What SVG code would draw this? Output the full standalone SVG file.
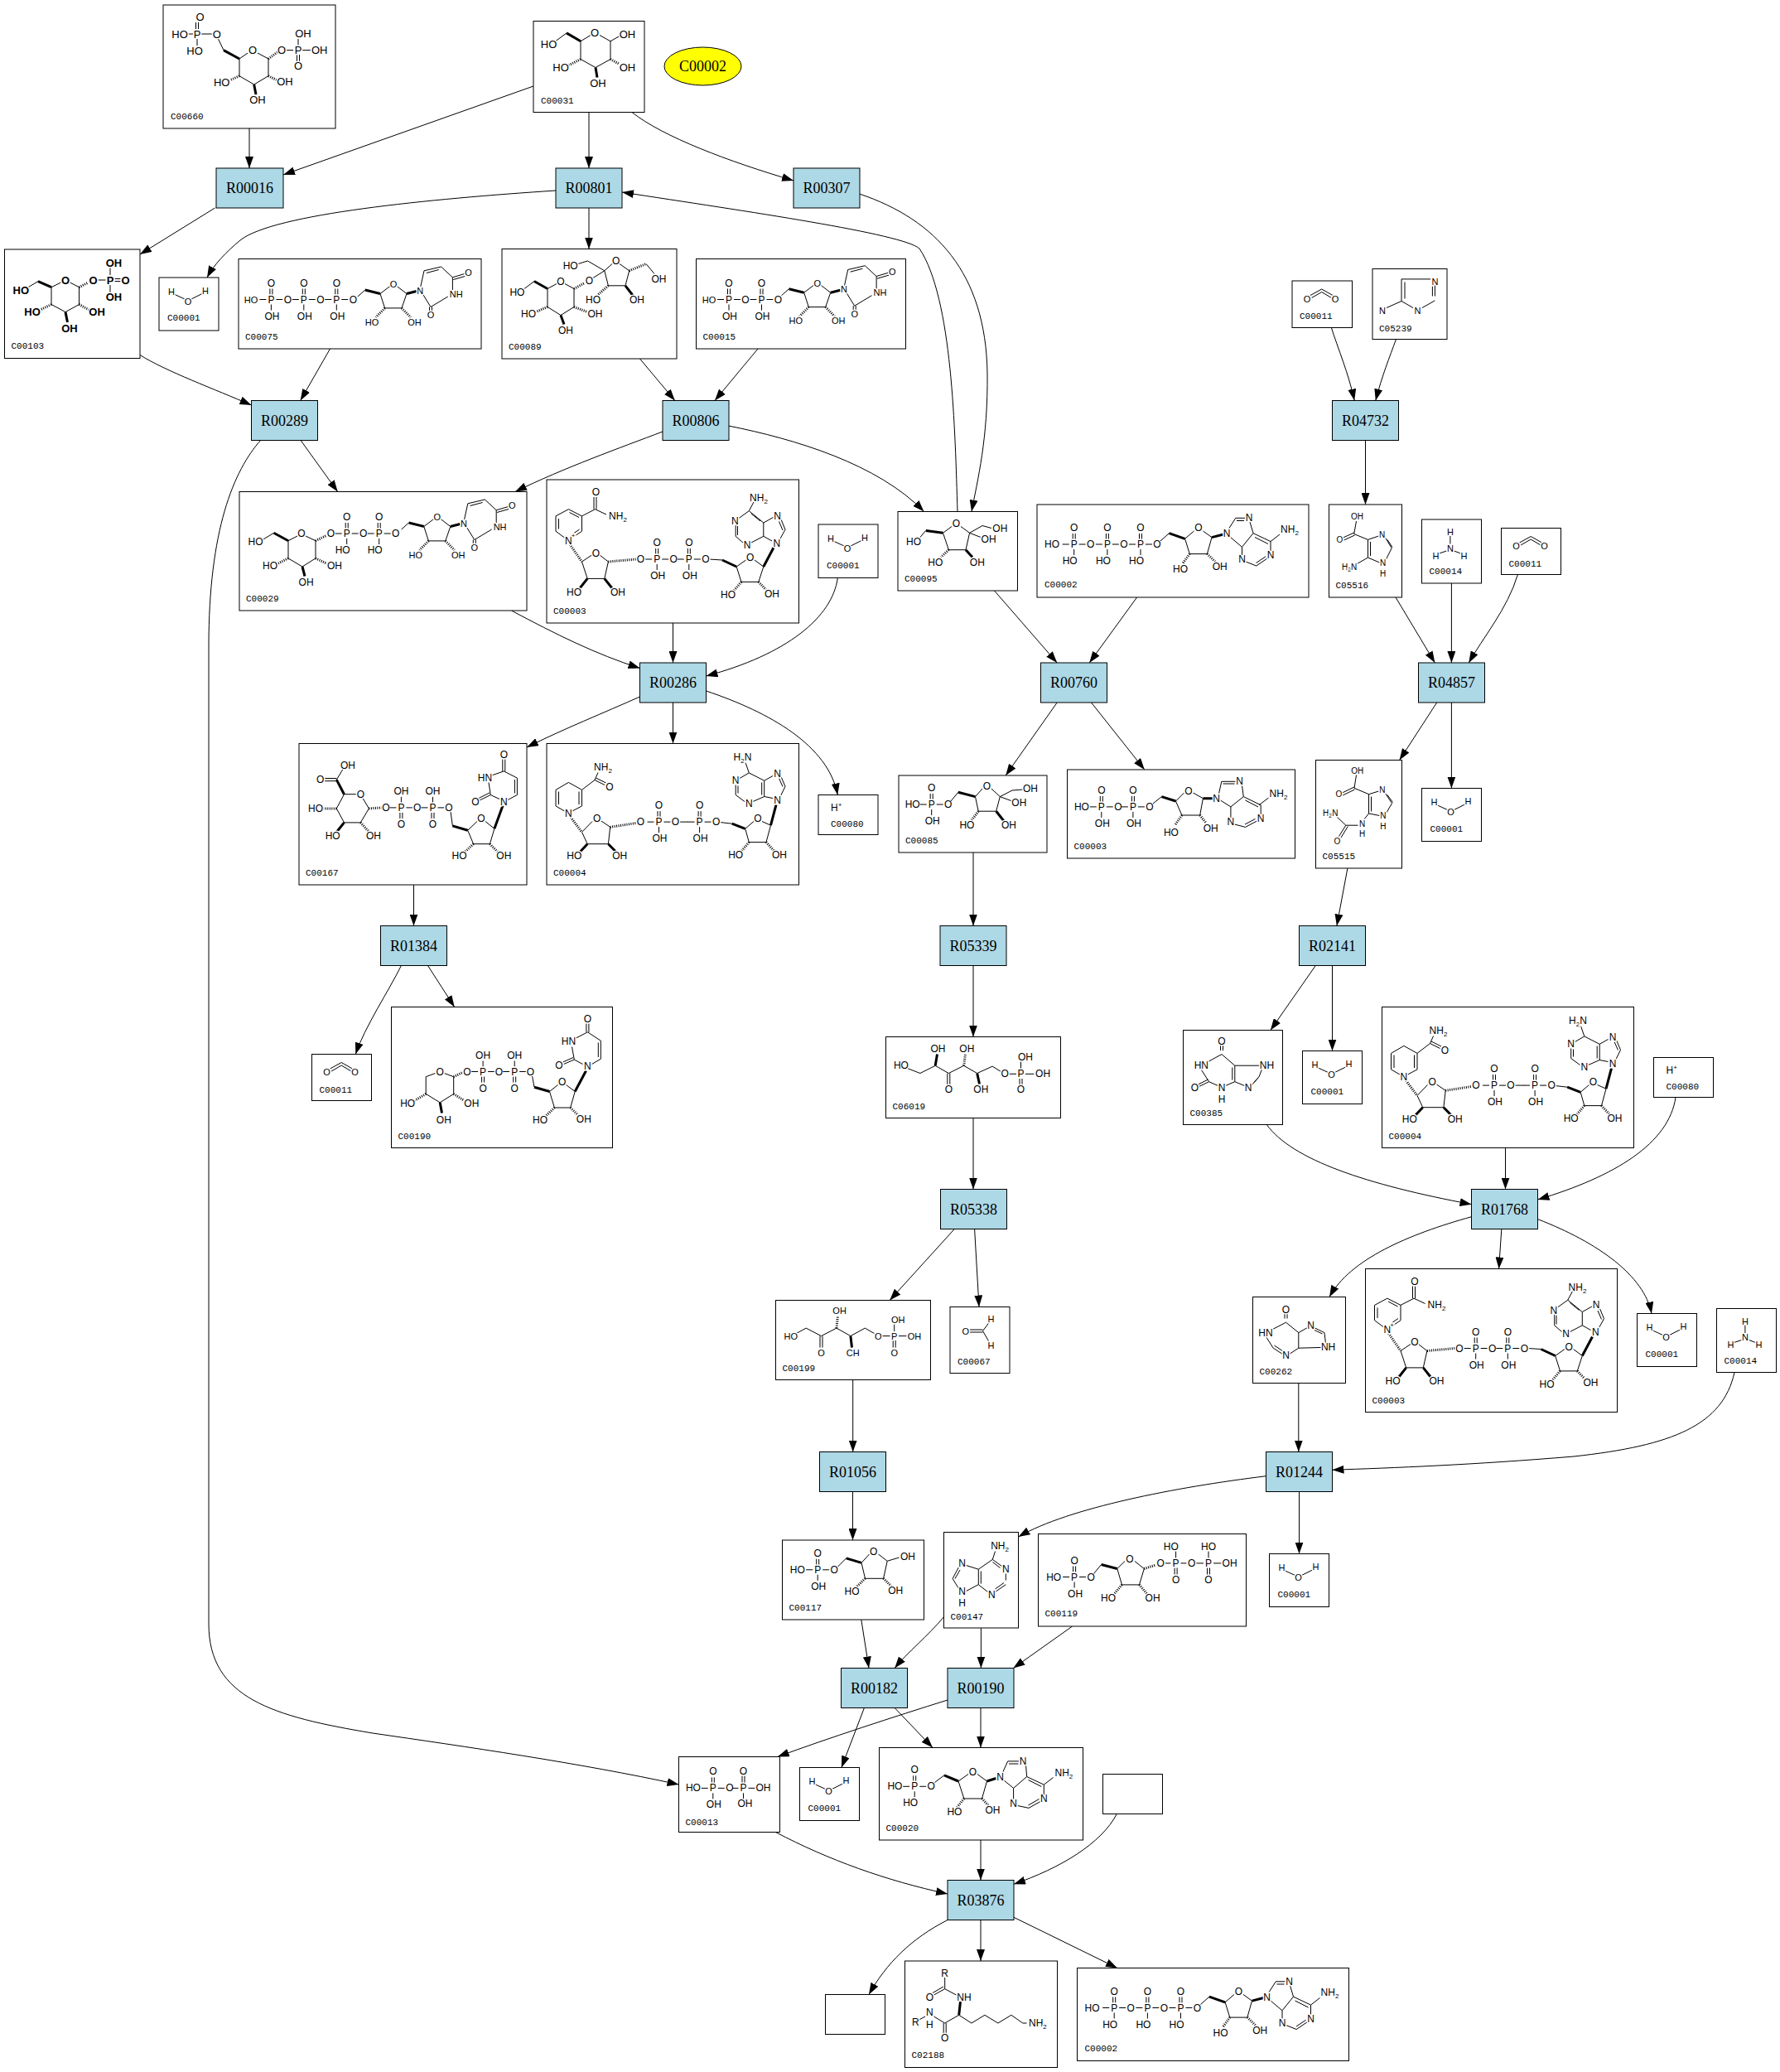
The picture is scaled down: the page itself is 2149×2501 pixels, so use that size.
<svg xmlns="http://www.w3.org/2000/svg" width="2149" height="2501" viewBox="0 0 2149 2501">
<style>
text{font-family:"Liberation Sans",Arial,sans-serif}
.a,.a1,.a3,.a0{text-anchor:middle;fill:#000;stroke:#fff;stroke-width:3px;paint-order:stroke;stroke-linejoin:round}
.a{font-size:12px}.a1{font-size:11px}.a3{font-size:13px}.a0{font-size:10px}
.bd{font-weight:bold}
.id{font-family:"Liberation Mono","DejaVu Sans Mono",monospace;font-size:11px;fill:#000}
.b{fill:none;stroke:#000;stroke-width:1}
.hb{fill:none;stroke:#000;stroke-width:3;stroke-dasharray:1 1.5}
.w{fill:none;stroke:#000;stroke-width:3}
.n>rect{fill:#fff;stroke:#000;stroke-width:1}
.r>rect{fill:#add8e6;stroke:#000;stroke-width:1}
.r>text,.el>text{font-family:"Liberation Serif","Times New Roman",serif;font-size:18px;text-anchor:middle;fill:#000}
.e path{fill:none;stroke:#000;stroke-width:1;marker-end:url(#ah)}
</style>
<defs>
<marker id="ah" viewBox="0 0 14 10" refX="14" refY="5" markerWidth="14" markerHeight="10" markerUnits="userSpaceOnUse" orient="auto"><path d="M0,0L14,5L0,10z" fill="#000"/></marker>
<g id="pa"><path class="b" d="M-14,0H-6M6,0H14M-1.5,-6V-13M1.5,-6V-13M0,6V13"/><text class="a" x="0" y="4">P</text><text class="a" x="0" y="-16">O</text><text class="a" x="1" y="24">OH</text><text class="a" x="20" y="4">O</text></g>
<g id="pb"><path class="b" d="M-14,0H-6M6,0H14M-1.5,-6V-13M1.5,-6V-13M0,6V13"/><text class="a" x="0" y="4">P</text><text class="a" x="0" y="-16">O</text><text class="a" x="-5" y="24">HO</text><text class="a" x="20" y="4">O</text></g>
<g id="pc"><path class="b" d="M-14,0H-6M6,0H14M0,-6V-13M-1.5,6V13M1.5,6V13"/><text class="a" x="0" y="4">P</text><text class="a" x="0" y="-16">OH</text><text class="a" x="0" y="24">O</text><text class="a" x="19.3" y="4">O</text></g>
<g id="urib">
<path class="b" d="M-9,8L0,0M18.2,4.5L30,-4.5M38.5,-4.5L50.2,4.5L44.2,21.9L23.8,21.9L18.2,4.5M69,4L79.2,20.5L100,8M105.6,0L105.6,-15.2L91.8,-28L71.2,-23.2L67,-4M89,-24.5L74,-20.5M77.7,20.5V25.5M80.7,20.5V25.5M105.6,-15.2L120,-19.5M106.5,-12.5L120.5,-16.5"/>
<path class="w" d="M0,0L18.2,4.5M50.2,4.5L62,1.5"/>
<path class="hb" d="M23.8,21.9L13,33M44.2,21.9L55,33"/>
<text class="a1" x="34.2" y="-3">O</text><text class="a1" x="8.2" y="42.5">HO</text><text class="a1" x="59.7" y="42.5">OH</text><text class="a1" x="66.5" y="4.7">N</text><text class="a1" x="79.2" y="34">O</text><text class="a1" x="110" y="8.5">NH</text><text class="a1" x="124.8" y="-17.2">O</text>
</g>
<g id="h2o"><path class="b" d="M18,20L31,26M39,26L53,19"/><text class="a1" x="15" y="20.5">H</text><text class="a1" x="35" y="32.5">O</text><text class="a1" x="56" y="19.7">H</text></g>
<g id="co2"><path class="b" d="M22,17.5L35.7,10L49,17.5M23.5,20.5L35.7,13.5L47.5,20.5"/><text class="a1" x="18" y="25.7">O</text><text class="a1" x="52" y="25.7">O</text></g>
<g id="nh3"><path class="b" d="M34.4,20V29.5M30,38L21,41M39,38L47,41"/><text class="a1" x="34.4" y="19">H</text><text class="a1" x="34.4" y="38.6">N</text><text class="a1" x="17" y="47.6">H</text><text class="a1" x="51" y="47.6">H</text></g>
<g id="hp"><text class="a" style="text-anchor:start" x="15" y="19">H<tspan font-size="8" dy="-5">+</tspan></text></g>
<g id="nad">
<path class="b" d="M11,43.9L26.4,35.7L42.5,43.9L42.5,62.2L31,70M21.5,70L11,62.2L11,43.9M14.5,47V59.5M27.5,39.5L39,45.5M39.5,60L31.5,65.5M42.5,43.9L58.5,35.7L72,42M57,35.7V21M60,35.7V21M54.5,91L42.5,99L49.2,119.4L69.8,119.4L74.4,99L64,91M196,96L212,97M240.5,97L229.2,105L235,123.4L255.8,123.4L261.8,105L251,97M272,74L261.8,68.3M281.5,72L288,60.2L283,48M285,61L280.5,50.5M273.5,45.5L261.8,52V68.3L247,76M237,76L228.2,68.3V55M232,46.5L244.3,37.7L261.8,52M244.3,37.7L250,27M230.5,67V56M247,41L258,50"/>
<path class="w" d="M49.2,119.4L40,131M69.8,119.4L79,131M212,97L229.2,105M261.8,105L274,82"/>
<path class="hb" d="M28,78L42.5,99M74.4,99L108,96M235,123.4L226,134M255.8,123.4L265,133"/>
<text class="a" x="26.4" y="77.7">N</text><text class="a" style="font-size:8px" x="32" y="70">+</text>
<text class="a" x="59.3" y="19.3">O</text>
<text class="a" x="86" y="47.9">NH<tspan font-size="8" dy="3">2</tspan></text>
<text class="a" x="59.3" y="92.8">O</text>
<text class="a" x="33" y="139.7">HO</text><text class="a" x="86" y="139.7">OH</text>
<text class="a" x="113.5" y="100">O</text>
<use href="#pa" x="133.2" y="96"/><use href="#pa" x="171.8" y="96"/>
<text class="a" x="245.7" y="98">O</text>
<text class="a" x="219" y="143">HO</text><text class="a" x="271.9" y="141.7">OH</text>
<text class="a" x="277.8" y="80.5">N</text><text class="a" x="278.7" y="47.9">N</text><text class="a" x="242" y="82.6">N</text><text class="a" x="227.3" y="54">N</text>
<text class="a" x="256" y="26.2">NH<tspan font-size="8" dy="3">2</tspan></text>
</g>
<g id="nadh">
<path class="b" d="M11,55.9L26.4,46.9L42.5,55.9L42.5,75.4L31,81.5M21.5,81.5L11,75.4L11,55.9M14.5,58V73.5M39,58V73.5M42.5,55.9L58,44L62,35M58,44L70,50M59.5,41.5L71.5,47.5M55,94L42.5,106.9L49.2,121.2L74.4,121.2L76.7,100.8L66,93.5M160,94.6H171M209,95L223.7,96.7M250,94L239.7,102.8L244.3,119.1L265,119.1L270.5,98.7L260,94M273,66L262.7,64M282,64L288,51.8L283,40M285,52L280.5,42M273,39L262.7,44.8V64L249,70M259.7,47V62M239,70L228.2,62V50M231,60V51M233,42L244.3,35.4L262.7,44.8M244.3,35.4L240,23"/>
<path class="w" d="M49.2,121.2L40,131M74.4,121.2L84,131M223.7,96.7L239.7,102.8M270.5,98.7L277,74"/>
<path class="hb" d="M29,89L42.5,106.9M76.7,100.8L108,96M244.3,119.1L235,130M265,119.1L275,130"/>
<text class="a" x="26.4" y="88.4">N</text>
<text class="a" x="68" y="32.4">NH<tspan font-size="8" dy="3">2</tspan></text>
<text class="a" x="75.8" y="56.4">O</text><text class="a" x="60.7" y="94.4">O</text>
<text class="a" x="33.3" y="139.5">HO</text><text class="a" x="88.2" y="139.5">OH</text>
<text class="a" x="113.5" y="98.6">O</text>
<use href="#pa" x="135.5" y="94.6"/><use href="#pa" x="184.6" y="94.6"/>
<text class="a" x="254.9" y="94.4">O</text>
<text class="a" x="228.2" y="138.6">HO</text><text class="a" x="281" y="138.6">OH</text>
<text class="a" x="278.7" y="72.1">N</text><text class="a" x="278.7" y="40.7">N</text><text class="a" x="244.3" y="76.2">N</text><text class="a" x="228.2" y="48.8">N</text>
<text class="a" x="236.5" y="20.3">H<tspan font-size="8" dy="3">2</tspan><tspan dy="-3">N</tspan></text>
</g>
<g id="atp">
<text class="a" x="18" y="52">HO</text>
<use href="#pb" x="44.7" y="48"/><use href="#pb" x="84.9" y="48"/><use href="#pb" x="125" y="48"/>
<path class="b" d="M149,44L159.5,34.6M189.5,32L178.6,41.3L184.3,59.6L205.4,59.6L211,39.6L200.5,32M231,30L239.8,16.3H251M241,19.5H250M257,21L261,34.6L247.5,51.3L233,39M247.5,51.3V61M252,69L264.7,74L278,65M264.5,70.5L276,62.8M282,56V44.6L261,34.6M279,47.5L263,39.5M282,44.6L293,36"/>
<path class="w" d="M159.5,34.6L178.6,41.3M211,39.6L225,36"/>
<path class="hb" d="M184.3,59.6L176,71M205.4,59.6L215,69"/>
<text class="a" x="195" y="32">O</text><text class="a" x="173" y="82">HO</text><text class="a" x="220.7" y="79.3">OH</text>
<text class="a" x="229" y="39.3">N</text><text class="a" x="256" y="20.3">N</text><text class="a" x="247.5" y="70.3">N</text><text class="a" x="282" y="65.3">N</text>
<text class="a" x="305" y="33.6">NH<tspan font-size="8" dy="3">2</tspan></text>
</g>
</defs>
<rect width="2149" height="2501" fill="#fff"/>

<g id="edges" class="e">
<path d="M301,155L301,203"/>
<path d="M644,104L342,211"/>
<path d="M711,135.5L711,203"/>
<path d="M763,135.5C800,165 880,195 958,218"/>
<path d="M259.5,251L169,307"/>
<path d="M671,230C520,240 330,258 290,290C272,305 258,320 250,335"/>
<path d="M711,251L711,300.5"/>
<path d="M1037.5,234C1130,265 1190,330 1192,450C1193,530 1180,580 1173,617.5"/>
<path d="M1156,617.5C1153,520 1150,360 1110,300C1090,282 900,255 751,232"/>
<path d="M169,428.5C200,448 260,470 303.5,489"/>
<path d="M398.5,421L362.7,483.5"/>
<path d="M772.5,433L814.8,483.5"/>
<path d="M915,421L863,483.5"/>
<path d="M362.7,531L407.7,593.5"/>
<path d="M315,531C282,568 252,640 252,780L252,1960C252,2050 330,2072 450,2092C560,2108 700,2128 819.5,2154"/>
<path d="M800,521C750,540 680,565 622,593.5"/>
<path d="M879.5,514C960,530 1060,560 1115.5,617.5"/>
<path d="M617.5,737C670,765 720,790 772.5,806.5"/>
<path d="M812.5,752L812.5,800"/>
<path d="M1011.3,697.5C1005,745 950,790 852.5,816"/>
<path d="M772.5,841C730,860 680,880 636,902"/>
<path d="M812.5,848L812.5,897.5"/>
<path d="M852.5,834C930,860 1000,900 1011.3,959.5"/>
<path d="M1372.6,721L1315.2,800"/>
<path d="M1200.5,713L1276.2,800"/>
<path d="M1276.2,848L1214.2,936"/>
<path d="M1317.5,848L1381.8,929"/>
<path d="M1175,1029L1175,1117.5"/>
<path d="M1175,1165.5L1175,1251.5"/>
<path d="M1175,1349.5L1175,1435.5"/>
<path d="M1152.3,1483.5L1074.2,1569.5"/>
<path d="M1176.6,1483.5L1182,1577.5"/>
<path d="M1029.7,1665.5L1029.7,1752.5"/>
<path d="M1029.5,1800.5L1029.5,1859"/>
<path d="M1607.4,395.5C1615,420 1628,450 1635.2,483.5"/>
<path d="M1685.5,409.5C1678,430 1668,455 1660.8,483.5"/>
<path d="M1648.5,531.5L1648.5,609"/>
<path d="M1685,721L1732.4,800"/>
<path d="M1752.4,704L1752.4,800"/>
<path d="M1832.4,693.5C1820,735 1790,770 1773.3,800"/>
<path d="M1734.7,848L1689.6,917.5"/>
<path d="M1752.4,848L1752.4,951.5"/>
<path d="M1626.9,1048L1613.9,1117.5"/>
<path d="M1588.3,1165.5L1533.9,1243.5"/>
<path d="M1608.5,1165.5L1608.5,1268.5"/>
<path d="M1529.3,1357.5C1560,1400 1650,1430 1776.5,1453.7"/>
<path d="M1817.5,1385.5L1817.5,1435.5"/>
<path d="M2023,1324.5C2015,1380 1950,1420 1856.5,1448"/>
<path d="M1776.5,1468.7C1700,1490 1630,1520 1605,1565.5"/>
<path d="M1812.8,1483.5L1809.6,1531.5"/>
<path d="M1856.5,1471.6C1930,1500 1985,1540 1994,1585.5"/>
<path d="M1567.8,1669.5L1567.8,1752.5"/>
<path d="M2094,1656.5C2080,1720 2020,1745 1900,1758C1780,1768 1680,1772 1608.5,1774.2"/>
<path d="M1528.5,1781.7C1420,1795 1290,1820 1229.5,1855"/>
<path d="M1568.5,1800.5L1568.5,1875.5"/>
<path d="M1039.8,1955L1049,2013.5"/>
<path d="M1139.5,1951.7C1120,1975 1095,1995 1080.2,2013.5"/>
<path d="M1184.4,1965L1184.4,2013.5"/>
<path d="M1294.6,1963L1223.4,2013.5"/>
<path d="M1043.4,2061.5L1015.9,2133.5"/>
<path d="M1080.2,2061.5L1126,2109.5"/>
<path d="M1144,2052C1080,2072 1000,2098 938.7,2120.5"/>
<path d="M1184,2061.5L1184,2109.5"/>
<path d="M936.5,2211.5C1000,2245 1070,2270 1144,2286"/>
<path d="M1184,2221L1184,2269.5"/>
<path d="M1348.3,2189.5C1330,2225 1280,2255 1224,2274.2"/>
<path d="M1144,2317.5C1100,2340 1070,2370 1049,2407.5"/>
<path d="M1184,2317.5L1184,2367"/>
<path d="M1224,2314.3L1348.9,2375.5"/>
<path d="M499.5,1068L499.5,1117.5"/>
<path d="M484.4,1165.5C470,1195 440,1240 429.3,1272.5"/>
<path d="M516.5,1165.5L548.7,1215.5"/>
</g>

<g id="reactions">
<g id="R00016" class="r"><rect x="261" y="203" width="81" height="48"/><text x="301.5" y="233">R00016</text></g>
<g id="R00801" class="r"><rect x="671" y="203" width="80" height="48"/><text x="711" y="233">R00801</text></g>
<g id="R00307" class="r"><rect x="958" y="203" width="80" height="48"/><text x="998" y="233">R00307</text></g>
<g id="R00289" class="r"><rect x="303.5" y="483.5" width="80" height="48"/><text x="343.5" y="513.5">R00289</text></g>
<g id="R00806" class="r"><rect x="800" y="483.5" width="80" height="48"/><text x="840" y="513.5">R00806</text></g>
<g id="R04732" class="r"><rect x="1608.5" y="483.5" width="80" height="48"/><text x="1648.5" y="513.5">R04732</text></g>
<g id="R00286" class="r"><rect x="772.5" y="800" width="80" height="48"/><text x="812.5" y="830">R00286</text></g>
<g id="R00760" class="r"><rect x="1256.5" y="800" width="80" height="48"/><text x="1296.5" y="830">R00760</text></g>
<g id="R04857" class="r"><rect x="1712.5" y="800" width="80" height="48"/><text x="1752.5" y="830">R04857</text></g>
<g id="R01384" class="r"><rect x="459.5" y="1117.5" width="80" height="48"/><text x="499.5" y="1147.5">R01384</text></g>
<g id="R05339" class="r"><rect x="1135" y="1117.5" width="80" height="48"/><text x="1175" y="1147.5">R05339</text></g>
<g id="R02141" class="r"><rect x="1568.5" y="1117.5" width="80" height="48"/><text x="1608.5" y="1147.5">R02141</text></g>
<g id="R05338" class="r"><rect x="1135.5" y="1435.5" width="80" height="48"/><text x="1175.5" y="1465.5">R05338</text></g>
<g id="R01768" class="r"><rect x="1776.5" y="1435.5" width="80" height="48"/><text x="1816.5" y="1465.5">R01768</text></g>
<g id="R01056" class="r"><rect x="989.5" y="1752.5" width="80" height="48"/><text x="1029.5" y="1782.5">R01056</text></g>
<g id="R01244" class="r"><rect x="1528.5" y="1752.5" width="80" height="48"/><text x="1568.5" y="1782.5">R01244</text></g>
<g id="R00182" class="r"><rect x="1015.5" y="2013.5" width="80" height="48"/><text x="1055.5" y="2043.5">R00182</text></g>
<g id="R00190" class="r"><rect x="1144" y="2013.5" width="80" height="48"/><text x="1184" y="2043.5">R00190</text></g>
<g id="R03876" class="r"><rect x="1144" y="2269.5" width="80" height="48"/><text x="1184" y="2299.5">R03876</text></g>
</g>

<g id="compounds">
<g id="C00002-ellipse" class="el"><ellipse cx="848.5" cy="80" rx="46.5" ry="23" fill="#ffff00" stroke="#000"/><text x="848.5" y="86">C00002</text></g>

<g id="C00660" class="n" transform="translate(197,6)"><rect width="208" height="149"/>
<path class="b" d="M28,35H36M46,35H59M39.5,21V29M42.5,21V29M41,41V49M66,40L73,54.6M102,58L92,65L92,85.7L109.7,96L127,85.7L127,65L114,58M148,54.6H157M168,54.6H178M163,49V41M161.5,60V68M164.5,60V68"/>
<path class="w" d="M73,54.6L92,65M109.7,96L112,108"/><path class="hb" d="M127,65L138,57M92,85.7L78,92M127,85.7L140,92"/>
<text class="a3" x="44.5" y="19">O</text><text class="a3" x="20" y="39.5">HO</text><text class="a3" x="41" y="39.5">P</text><text class="a3" x="64.7" y="39.5">O</text><text class="a3" x="38" y="59.5">HO</text><text class="a3" x="108" y="59">O</text><text class="a3" x="143" y="59">O</text><text class="a3" x="163" y="59">P</text><text class="a3" x="188.7" y="59">OH</text><text class="a3" x="169" y="38.5">OH</text><text class="a3" x="163" y="77.5">O</text><text class="a3" x="70.7" y="98">HO</text><text class="a3" x="147" y="97.3">OH</text><text class="a3" x="114" y="119.3">OH</text>
<text class="id" x="9" y="138">C00660</text></g>

<g id="C00031" class="n" transform="translate(644,25.5)"><rect width="134" height="110"/>
<path class="b" d="M27,24L40,14.4M69,17L57,24.3L57,46L75,56L93,46L93,24.3L80,17M93,24.3L104,18"/>
<path class="w" d="M40,14.4L57,24.3M75,56L77,68"/><path class="hb" d="M93,46L104,52M57,46L43,53"/>
<text class="a3" x="18.5" y="32.8">HO</text><text class="a3" x="74" y="18.5">O</text><text class="a3" x="113.4" y="20">OH</text><text class="a3" x="113.4" y="60">OH</text><text class="a3" x="78" y="79.8">OH</text><text class="a3" x="33" y="60.7">HO</text>
<text class="id" x="9" y="99">C00031</text></g>

<g id="C00103" class="n" transform="translate(5.5,301)"><rect width="163.5" height="131.5"/>
<path class="b" d="M28,46L40.5,38.6M68,40L56.5,45.7L56.5,66.5L73.5,75.6L90,66.5L90,45.7L79,40M113,37H122M133,35.5H140M133,38.5H140M127.5,31V22M127.5,43V52"/>
<path class="w" d="M40.5,38.6L56.5,45.7M73.5,75.6L76,88"/><path class="hb" d="M90,45.7L101,40M56.5,66.5L43,73M90,66.5L102,73"/>
<g class="bd"><text class="a3" x="19.8" y="54.2">HO</text><text class="a3" x="73.5" y="41.5">O</text><text class="a3" x="107" y="41.5">O</text><text class="a3" x="127.5" y="41.5">P</text><text class="a3" x="146" y="41.5">O</text><text class="a3" x="132" y="20.5">OH</text><text class="a3" x="132" y="62.2">OH</text><text class="a3" x="33.5" y="80.1">HO</text><text class="a3" x="111.6" y="80.1">OH</text><text class="a3" x="78.5" y="100.1">OH</text></g>
<text class="id" x="8" y="120">C00103</text></g>

<g id="C00001-1" class="n" transform="translate(192,335)"><rect width="72" height="64"/><use href="#h2o"/><text class="id" x="10" y="52">C00001</text></g>

<g id="C00075" class="n" transform="translate(288,312.5)"><rect width="293" height="108.5"/>
<text class="a1" x="15" y="53">HO</text><use href="#pa" x="39.4" y="49"/><use href="#pa" x="78.8" y="49"/><use href="#pa" x="118.3" y="49"/><use href="#urib" x="152.8" y="37.5"/>
<text class="id" x="8" y="97">C00075</text></g>

<g id="C00089" class="n" transform="translate(606,300.5)"><rect width="211" height="132.5"/>
<path class="b" d="M27,48L39,39M66,42L55,48L55,70L71,80L87,70L87,48L76,42M110,35L123.8,26.3M133,18L123.8,26.3L128.4,44.3L149,44.3L153.7,26.3L142,18M123.8,26.3L103.4,14.4L92,18M174,18L184,30"/>
<path class="w" d="M39,39L55,48M71,80L75,91M149,44.3L158,56"/><path class="hb" d="M55,70L41,76M87,70L103,76M87,48L100,41M153.7,26.3L174,18M128.4,44.3L115,56"/>
<text class="a" x="18.4" y="56.2">HO</text><text class="a" x="71" y="43">O</text><text class="a" x="32" y="82">HO</text><text class="a" x="77" y="102">OH</text><text class="a" x="112.4" y="82">OH</text><text class="a" x="105.5" y="42.3">O</text><text class="a" x="137.6" y="18.4">O</text><text class="a" x="82.7" y="24.3">HO</text><text class="a" x="189.5" y="40.3">OH</text><text class="a" x="162.9" y="65">OH</text><text class="a" x="110" y="65">HO</text>
<text class="id" x="8" y="121">C00089</text></g>

<g id="C00015" class="n" transform="translate(840.5,312.5)"><rect width="253" height="108.5"/>
<text class="a1" x="15.6" y="53">HO</text><use href="#pa" x="39.5" y="49"/><use href="#pa" x="79" y="49"/><use href="#urib" x="112" y="36.2"/>
<text class="id" x="8" y="97">C00015</text></g>

<g id="C00011-1" class="n" transform="translate(1560,339)"><rect width="72.5" height="56.5"/><use href="#co2"/><text class="id" x="9" y="46">C00011</text></g>

<g id="C05239" class="n" transform="translate(1657,324.5)"><rect width="90" height="85"/>
<path class="b" d="M35,12.4H70M35,12.4V39M39,16V36M75.4,20V33M72.4,21V33M75.4,38.3L60,47M49,47L35,39M35,39L17,47"/>
<text class="a1" x="75.4" y="19.2">N</text><text class="a1" x="54.5" y="54.3">N</text><text class="a1" x="12" y="54.3">N</text>
<text class="id" x="8" y="75">C05239</text></g>

<g id="C00029" class="n" transform="translate(289,593.5)"><rect width="347" height="143.5"/>
<path class="b" d="M28,58L41.6,49.8M70,53.5L59,59.2L59,80.4L76,90.5L92,80.4L92,59.2L80,53.5"/>
<path class="w" d="M41.6,49.8L59,59.2M76,90.5L79,102"/><path class="hb" d="M59,80.4L46,87M92,80.4L106,87M92,59.2L105,53"/>
<text class="a" x="19.5" y="64.8">HO</text><text class="a" x="75" y="54.5">O</text><text class="a" x="37" y="93.4">HO</text><text class="a" x="115" y="93.4">OH</text><text class="a" x="80.6" y="113">OH</text><text class="a" x="110.4" y="54.5">O</text>
<use href="#pb" x="129.7" y="50.5"/><use href="#pb" x="168.7" y="50.5"/><use href="#urib" x="204.6" y="37.5"/>
<text class="id" x="8" y="132">C00029</text></g>

<g id="C00003-1" class="n" transform="translate(660,579)"><rect width="304.5" height="173"/><use href="#nad"/><text class="id" x="8" y="162">C00003</text></g>

<g id="C00001-2" class="n" transform="translate(988,633)"><rect width="72" height="64.5"/><use href="#h2o"/><text class="id" x="10" y="52.5">C00001</text></g>

<g id="C00095" class="n" transform="translate(1084,617.5)"><rect width="144.5" height="95.5"/>
<path class="b" d="M26,32L33.8,22.9M65,18L54.5,25.8L61.4,46.2L82,46.2L86.6,25.8L76,18M86.6,25.8L102,17L113,20M86.6,25.8L100,31"/>
<path class="w" d="M33.8,22.9L54.5,25.8M82,46.2L90,55"/><path class="hb" d="M61.4,46.2L52,55"/>
<text class="a" x="19" y="40.8">HO</text><text class="a" x="70.5" y="18.7">O</text><text class="a" x="123.3" y="24.5">OH</text><text class="a" x="109.6" y="37.9">OH</text><text class="a" x="45.3" y="65.7">HO</text><text class="a" x="95.8" y="65.7">OH</text>
<text class="id" x="8" y="84">C00095</text></g>

<g id="C00002-1" class="n" transform="translate(1252,609)"><rect width="328" height="112"/><use href="#atp"/><text class="id" x="9" y="100">C00002</text></g>

<g id="C05516" class="n" transform="translate(1604.5,609)"><rect width="88" height="112"/>
<path class="b" d="M30.2,35.5L33,20M30.2,34L17,40M31,37L18,43M30.2,35.5L47,42.4L60,38M68,40L75.7,52.6L69,66M70.5,42.5L76.5,51.5M61,70L47,64V42.4M50,62V45M47,64L33,72"/>
<text class="a0" x="34" y="18.2">OH</text><text class="a0" x="13" y="45.9">O</text><text class="a0" x="64" y="39.8">N</text><text class="a0" x="65" y="73.5">N</text><text class="a0" x="65" y="86.5">H</text><text class="a0" x="24.6" y="78.5">H<tspan font-size="7" dy="2">2</tspan><tspan dy="-2">N</tspan></text>
<text class="id" x="8" y="101">C05516</text></g>

<g id="C00014-1" class="n" transform="translate(1716.5,627)"><rect width="72" height="77"/><use href="#nh3"/><text class="id" x="9" y="66">C00014</text></g>

<g id="C00011-2" class="n" transform="translate(1812.5,637.5)"><rect width="72" height="56"/><use href="#co2"/><text class="id" x="9" y="46">C00011</text></g>

<g id="C00167" class="n" transform="translate(361,897.5)"><rect width="275" height="170.5"/>
<path class="b" d="M69,61.2L54.5,61.2L45.3,78.4L54.5,95.4L74.3,95.4L84.4,78.4L77,66M45.3,43.6L53,31M45.3,42H31M45.3,45.2H31M183,82L185.4,99.4M215,94L203.7,104.8L210.6,121.2L230.4,121.2L235.9,102.8L225,94M242,67L231.3,62L229,47M231.3,62L218,68.5M230,59.5L217,66M231,39L247.3,33.4M245.8,33.4V19M248.8,33.4V19M247.3,33.4L263.4,41.6M263.4,41.6V62M260.4,43.5V60M263.4,62L252,68"/>
<path class="w" d="M54.5,61.2L45.3,43.6M54.5,95.4L46,106M185.4,99.4L203.7,104.8M235.9,102.8L246,75"/><path class="hb" d="M45.3,78.4L29,78.4M74.3,95.4L84,106M84.4,78.4L100,77.4M210.6,121.2L200,131M230.4,121.2L240,131"/>
<text class="a" x="59" y="30.4">OH</text><text class="a" x="25.6" y="47.6">O</text><text class="a" x="74.3" y="65.2">O</text><text class="a" x="20" y="82.4">HO</text><text class="a" x="40.7" y="115.8">HO</text><text class="a" x="90" y="115.8">OH</text><text class="a" x="105" y="81.4">O</text>
<use href="#pc" x="123.4" y="77.4"/><use href="#pc" x="161.5" y="77.4"/>
<text class="a" x="219.8" y="94.4">O</text><text class="a" x="193.6" y="139.5">HO</text><text class="a" x="247.3" y="139.5">OH</text><text class="a" x="247.3" y="74.2">N</text><text class="a" x="213" y="74.2">O</text><text class="a" x="224.4" y="45.6">HN</text><text class="a" x="247.3" y="17.8">O</text>
<text class="id" x="8" y="159">C00167</text></g>

<g id="C00004-1" class="n" transform="translate(660,897.5)"><rect width="304.5" height="170.5"/><use href="#nadh"/><text class="id" x="8" y="159">C00004</text></g>

<g id="C00080-1" class="n" transform="translate(988,959.5)"><rect width="72" height="48"/><use href="#hp"/><text class="id" x="15" y="38">C00080</text></g>

<g id="C00085" class="n" transform="translate(1085,936)"><rect width="179" height="93"/>
<text class="a" x="16.7" y="39">HO</text><use href="#pa" x="39.7" y="35"/>
<path class="b" d="M63,31L71.8,20.3M101,16L92.5,25.6L96.2,43.2L117.7,43.2L122.3,25.6L112,16M122.3,25.6L137,18L150,17M122.3,25.6L137,31"/>
<path class="w" d="M71.8,20.3L92.5,25.6M117.7,43.2L127,55"/><path class="hb" d="M96.2,43.2L88,54"/>
<text class="a" x="106.3" y="17.4">O</text><text class="a" x="159" y="20.2">OH</text><text class="a" x="145.3" y="37">OH</text><text class="a" x="82.4" y="64.3">HO</text><text class="a" x="132.9" y="64.3">OH</text>
<text class="id" x="8" y="82">C00085</text></g>

<g id="C00003-2" class="n" transform="translate(1288.5,929)"><rect width="275" height="107"/>
<text class="a" x="17.4" y="48.9">HO</text><use href="#pa" x="41.3" y="44.9"/><use href="#pa" x="79.4" y="44.9"/>
<path class="b" d="M103.5,41L113.9,32.6M141,28L131,38L138.4,55L160.2,55L163.9,34.7L152,28M183,29L186.3,14.3H203M188,17H202M211,19L212.8,32.6L197.4,44.9L185,37M197.4,44.9V59M202,66L215,69.4L229,62M214.5,66L227,59.5M233.7,54V42.8L212.8,32.6M230.5,45L215,37M231.4,42.8L243,34"/>
<path class="w" d="M113.9,32.6L131,38M163.9,34.7L176,34.7"/><path class="hb" d="M138.4,55L130,67M160.2,55L168,65"/>
<text class="a" x="146.3" y="29.7">O</text><text class="a" x="125.4" y="79.5">HO</text><text class="a" x="173.2" y="75.4">OH</text><text class="a" x="180.2" y="38.7">N</text><text class="a" x="208.1" y="18.3">N</text><text class="a" x="197.4" y="67.2">N</text><text class="a" x="233.7" y="63">N</text><text class="a" x="255" y="32.6">NH<tspan font-size="8" dy="3">2</tspan></text>
<text class="id" x="8" y="96">C00003</text></g>

<g id="C05515" class="n" transform="translate(1588.5,917.5)"><rect width="104" height="130.5"/>
<path class="b" d="M46.5,33.8L49,18M46.5,32.5L32,39.5M47,35.5L32.5,42.5M46.5,33.8L64.1,41.2L76,37.5M84,40L92,52.2L85,64M86.5,42L93,51M77,67L64,64.4V41.2M67,62V44M64,64.4L58,72M51,78.7L36.3,78.7L24,67M36.3,78.7L28,92M38.8,80L30.5,93.5"/>
<text class="a0" x="50.2" y="16.1">OH</text><text class="a0" x="28" y="44.7">O</text><text class="a0" x="80.4" y="39.4">N</text><text class="a0" x="81.4" y="70.5">N</text><text class="a0" x="81.4" y="83">H</text><text class="a0" x="56.2" y="80">N</text><text class="a0" x="56" y="92.5">H</text><text class="a0" x="17.7" y="67.9">H<tspan font-size="7" dy="2">2</tspan><tspan dy="-2">N</tspan></text><text class="a0" x="26" y="101">O</text>
<text class="id" x="8" y="119">C05515</text></g>

<g id="C00001-3" class="n" transform="translate(1716.5,951.5)"><rect width="72" height="64"/><use href="#h2o"/><text class="id" x="10" y="52">C00001</text></g>

<g id="C00011-3" class="n" transform="translate(376.5,1272.5)"><rect width="72" height="56"/><use href="#co2"/><text class="id" x="9" y="46">C00011</text></g>

<g id="C00190" class="n" transform="translate(472.5,1215.5)"><rect width="267" height="170"/>
<path class="b" d="M53,80L41.7,84.2L41.7,104.9L58.7,115.3L75.2,104.9L75.2,84.2L64,80M170,83L172.5,96.7M201,94L191,102L196.9,121.5L216.2,121.5L221.7,102L211,94M231,69L220.8,63.5L218,48M220.8,63.5L208,69M219.5,61L207,66.5M221,38.5L236.9,30.3M235.4,30.3V20M238.4,30.3V20M236.9,30.3L252.8,40.7M252.8,40.7V62.7M249.8,43V60.5M252.8,62.7L242,69"/>
<path class="w" d="M58.7,115.3L61,128M172.5,96.7L191,102M221.7,102L235,77"/><path class="hb" d="M41.7,104.9L28,113M75.2,104.9L88,113M75.2,84.2L86,79M196.9,121.5L186,132M216.2,121.5L226,131"/>
<text class="a" x="58.7" y="82">O</text><text class="a" x="19.7" y="120.1">HO</text><text class="a" x="96.8" y="120.1">OH</text><text class="a" x="63.3" y="140.9">OH</text><text class="a" x="91.3" y="82">O</text>
<use href="#pc" x="110.6" y="78"/><use href="#pc" x="148.7" y="78"/>
<text class="a" x="179.5" y="140.9">HO</text><text class="a" x="232.3" y="139.2">OH</text><text class="a" x="206.1" y="94.4">O</text><text class="a" x="236.9" y="75.7">N</text><text class="a" x="202.5" y="74.9">O</text><text class="a" x="213.9" y="45.9">HN</text><text class="a" x="236.9" y="18.6">O</text>
<text class="id" x="8" y="159">C00190</text></g>

<g id="C06019" class="n" transform="translate(1069.5,1251.5)"><rect width="211" height="98"/>
<path class="b" d="M26,38L41.4,44L59.7,34.8L75.8,44L94.1,34.8L110.2,44L128.6,35.6L139,42M74.3,44V58M77.3,44V58M148.5,44.8H157.5M168.5,44.8H179M163,39V30M161.5,50.5V58M164.5,50.5V58"/>
<path class="w" d="M59.7,34.8L62,21M110.2,44L113,57"/><path class="hb" d="M94.1,34.8L96,21"/>
<text class="a" x="18.4" y="38.8">HO</text><text class="a" x="63" y="18.9">OH</text><text class="a" x="75.8" y="67.9">O</text><text class="a" x="97.8" y="18.9">OH</text><text class="a" x="114.8" y="67.9">OH</text><text class="a" x="143.7" y="48.8">O</text><text class="a" x="163" y="48.8">P</text><text class="a" x="189.6" y="48.8">OH</text><text class="a" x="168.4" y="28.5">OH</text><text class="a" x="163" y="67.9">O</text>
<text class="id" x="8" y="87">C06019</text></g>

<g id="C00385" class="n" transform="translate(1428.5,1243.5)"><rect width="120" height="114"/>
<path class="b" d="M45,18V24.5M48,18V24.5M46.5,29.1L30,38M22,48L31.1,62.2L42,67M31.1,62.2L19,68M30,59.5L18,65.5M51,67L62.3,62.2V42.7L46.5,29.1M59.3,60V45M62.3,62.2L74,67M83,66L91.6,56L95,47M85.5,63L91,57M92,42.7H62.3"/>
<text class="a" x="46.5" y="17.3">O</text><text class="a" x="21.8" y="46.7">HN</text><text class="a" x="13.9" y="73.3">O</text><text class="a" x="46.5" y="73">N</text><text class="a" x="46.5" y="87.5">H</text><text class="a" x="78.6" y="73.3">N</text><text class="a" x="100.9" y="46.7">NH</text>
<text class="id" x="8" y="103">C00385</text></g>

<g id="C00001-4" class="n" transform="translate(1572.5,1268.5)"><rect width="72" height="64"/><use href="#h2o"/><text class="id" x="10" y="52">C00001</text></g>

<g id="C00004-2" class="n" transform="translate(1668.5,1215.5)"><rect width="304" height="170"/><use href="#nadh"/><text class="id" x="8" y="159">C00004</text></g>

<g id="C00080-2" class="n" transform="translate(1996.5,1276.5)"><rect width="72" height="48"/><use href="#hp"/><text class="id" x="15" y="38">C00080</text></g>

<g id="C00199" class="n" transform="translate(936.5,1569.5)"><rect width="187" height="96"/>
<path class="b" d="M25,40L36.7,33.6L55,43.1L73.4,33.6L90.4,43.1L107.8,33.6L119,40M53.5,43.1V57M56.5,43.1V57M128.5,43.1H138M148.5,43.1H158M143.2,37.5V29M141.7,48.5V57M144.7,48.5V57"/>
<path class="hb" d="M73.4,33.6L75,19"/><path class="w" d="M90.4,43.1L92,57"/>
<text class="a1" x="18.3" y="47.1">HO</text><text class="a1" x="55" y="67">O</text><text class="a1" x="77.1" y="16.9">OH</text><text class="a1" x="93.2" y="67">CH</text><text class="a1" x="123.9" y="47.1">O</text><text class="a1" x="143.2" y="47.1">P</text><text class="a1" x="167.5" y="47.1">OH</text><text class="a1" x="147.8" y="27.2">OH</text><text class="a1" x="143.2" y="67">O</text>
<text class="id" x="8" y="85">C00199</text></g>

<g id="C00067" class="n" transform="translate(1147,1577.5)"><rect width="72" height="80"/>
<path class="b" d="M24,27.5H39.5M24,30.5H39.5M39.5,29L47,19M39.5,29L47,42"/>
<text class="a1" x="18.8" y="33">O</text><text class="a1" x="49.6" y="18.5">H</text><text class="a1" x="49.6" y="50.4">H</text>
<text class="id" x="9" y="69">C00067</text></g>

<g id="C00262" class="n" transform="translate(1512.5,1565.5)"><rect width="112" height="104"/>
<path class="b" d="M38.5,20V26M41.5,20V26M40,30.7L24,39M16,48L24.7,61.7L36,69M26,58.5L36.5,65.5M44,69L55.3,61.7V43.1L40,30.7M55.3,43.1L66,37M74,37L86.5,43.1M74.5,40L84,44.5M86.5,43.1L88,56M84,60.9L55.3,61.7"/>
<text class="a" x="40" y="19.3">O</text><text class="a" x="15.4" y="47.1">HN</text><text class="a" x="40" y="74.9">N</text><text class="a" x="70.2" y="38.7">N</text><text class="a" x="91.1" y="64.9">NH</text>
<text class="id" x="8" y="93">C00262</text></g>

<g id="C00003-3" class="n" transform="translate(1648.5,1531.5)"><rect width="304" height="173"/><use href="#nad"/><text class="id" x="8" y="162">C00003</text></g>

<g id="C00001-5" class="n" transform="translate(1976.5,1585.5)"><rect width="72" height="64"/><use href="#h2o"/><text class="id" x="10" y="52">C00001</text></g>

<g id="C00014-2" class="n" transform="translate(2072.5,1579.5)"><rect width="72" height="77"/><use href="#nh3"/><text class="id" x="9" y="66">C00014</text></g>

<g id="C00117" class="n" transform="translate(944.5,1859)"><rect width="171" height="96"/>
<text class="a" x="18.3" y="39.8">HO</text><use href="#pa" x="42.7" y="35.8"/>
<path class="b" d="M67,32L77.1,21.9M105,17L95.5,27.4L100,46.3L122.1,46.3L126.7,25.3L116,17M126.7,25.3L141,21"/>
<path class="w" d="M77.1,21.9L95.5,27.4"/><path class="hb" d="M100,46.3L89,57M122.1,46.3L132,56"/>
<text class="a" x="110.2" y="17.9">O</text><text class="a" x="151.5" y="24.2">OH</text><text class="a" x="84" y="66">HO</text><text class="a" x="136.7" y="65.1">OH</text>
<text class="id" x="8" y="85">C00117</text></g>

<g id="C00147" class="n" transform="translate(1139.5,1849.5)"><rect width="90" height="115.5"/>
<path class="b" d="M58.8,32.9L62,23M58.8,32.9L70,41M59,36L68,43M74.8,50V58M74.8,63.2L62,72M72.5,61L62,68.5M53,72L41.8,63.2V44.7L58.8,32.9M44.8,62V47M41.8,44.7L27,40M18,42L10.6,56L18,68M19.5,45.5L13.5,56M27,71L41.8,63.2"/>
<text class="a" x="67.6" y="20.8">NH<tspan font-size="8" dy="3">2</tspan></text><text class="a" x="74.8" y="48.7">N</text><text class="a" x="57.9" y="79">N</text><text class="a" x="22" y="41.9">N</text><text class="a" x="22" y="75.5">N</text><text class="a" x="22" y="89.5">H</text>
<text class="id" x="8" y="105">C00147</text></g>

<g id="C00119" class="n" transform="translate(1253.5,1851.5)"><rect width="251" height="111.5"/>
<text class="a" x="18.7" y="56">HO</text><use href="#pa" x="43.6" y="52"/>
<path class="b" d="M67,48L76.1,37M104.5,33L95.3,42L101,61.4L122,61.4L127.8,42L116.5,33M152.5,35.4H160M172,35.4H179M190.5,35.4H199.5M211.5,35.4H221M166.1,29.5V21M205.5,29.5V21M164.6,41V49M167.6,41V49M204,41V49M207,41V49"/>
<path class="w" d="M76.1,37L95.3,42"/><path class="hb" d="M101,61.4L92,72M122,61.4L131,72M127.8,42L142,37.5"/>
<text class="a" x="110.5" y="34.4">O</text><text class="a" x="84.5" y="81">HO</text><text class="a" x="138.1" y="81">OH</text><text class="a" x="147.7" y="39.4">O</text><text class="a" x="166.1" y="39.4">P</text><text class="a" x="185.2" y="39.4">O</text><text class="a" x="205.5" y="39.4">P</text><text class="a" x="231.1" y="39.4">OH</text><text class="a" x="160.3" y="19.4">HO</text><text class="a" x="205.5" y="19.4">HO</text><text class="a" x="166.1" y="59.4">O</text><text class="a" x="205.5" y="59.4">O</text>
<text class="id" x="8" y="99">C00119</text></g>

<g id="C00001-6" class="n" transform="translate(1532.5,1875.5)"><rect width="72" height="64"/><use href="#h2o"/><text class="id" x="10" y="52">C00001</text></g>

<g id="C00013" class="n" transform="translate(819.5,2120.5)"><rect width="122" height="91"/>
<text class="a" x="17.4" y="41.9">HO</text><use href="#pa" x="41.3" y="37.9"/>
<path class="b" d="M64.5,37.9H72M84,37.9H92M76.5,32V23M79.5,32V23M78,43.9V51"/>
<text class="a" x="78" y="41.9">P</text><text class="a" x="78" y="21.9">O</text><text class="a" x="80" y="60.9">OH</text><text class="a" x="101.9" y="41.9">OH</text>
<text class="id" x="8" y="82">C00013</text></g>

<g id="C00001-7" class="n" transform="translate(965.5,2133.5)"><rect width="72" height="64"/><use href="#h2o"/><text class="id" x="10" y="52">C00001</text></g>

<g id="C00020" class="n" transform="translate(1061.5,2109.5)"><rect width="246" height="111.5"/>
<text class="a" x="18.9" y="50.8">HO</text><use href="#pb" x="42.7" y="46.8"/>
<path class="b" d="M67,42L78.5,33.3M107.5,32L95.5,40.5L102.4,61.5L124,61.5L130,40.5L118.5,32M149,30L155.2,16.4H168.5M156.5,19.5H168M177,21L178.2,35L162.1,48.9L150,39M162.1,48.9V62M167,70L180.5,72.9L194.5,65M180,69.5L193,62M198.8,57V44.7L178.2,35M195.8,47L180,39M198.8,44.7L210,36"/>
<path class="w" d="M78.5,33.3L95.5,40.5M130,40.5L141,37"/><path class="hb" d="M102.4,61.5L94,72M124,61.5L133,71"/>
<text class="a" x="113" y="33.1">O</text><text class="a" x="90.9" y="81.1">HO</text><text class="a" x="136.9" y="79.5">OH</text><text class="a" x="146" y="39">N</text><text class="a" x="173.6" y="20.4">N</text><text class="a" x="162.1" y="71">N</text><text class="a" x="198.8" y="65.6">N</text><text class="a" x="222.9" y="34.8">NH<tspan font-size="8" dy="3">2</tspan></text>
<text class="id" x="8" y="100">C00020</text></g>

<g id="empty-1" class="n"><rect x="1331.5" y="2141.5" width="72" height="48"/></g>
<g id="empty-2" class="n"><rect x="996.5" y="2407.5" width="72" height="48"/></g>

<g id="C02188" class="n" transform="translate(1092.5,2367)"><rect width="184" height="128.5"/>
<path class="b" d="M48.2,20V33.7M48.2,33.7L35,41M46.5,31L33.5,38.5M48.2,33.7L62,41M65.2,65.3L48.2,75M46.7,75V87M49.7,75V87M48.2,75L35,67M24.5,67L17,71M65.2,65.3L80.4,75L96.4,65.3L112.4,75L128.4,65.3L142.3,75L147,75"/>
<path class="w" d="M67,49L65.2,65.3"/>
<text class="a" x="48.2" y="18.7">R</text><text class="a" x="29.8" y="48.2">O</text><text class="a" x="71.5" y="48.2">NH</text><text class="a" x="48.2" y="96.7">O</text><text class="a" x="29.8" y="66">N</text><text class="a" x="29.8" y="80.5">H</text><text class="a" x="12.8" y="77.8">R</text><text class="a" x="160.4" y="79">NH<tspan font-size="8" dy="3">2</tspan></text>
<text class="id" x="8" y="117">C02188</text></g>

<g id="C00002-2" class="n" transform="translate(1300.5,2375.5)"><rect width="328" height="112"/><use href="#atp"/><text class="id" x="9" y="100">C00002</text></g>
</g>
</svg>
